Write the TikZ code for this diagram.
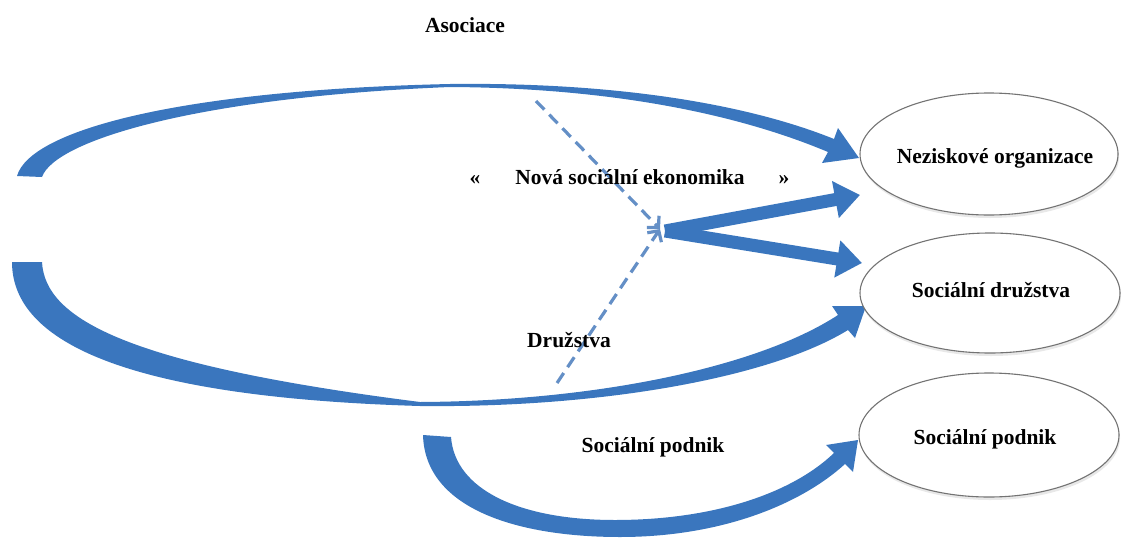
\documentclass[tikz,border=0pt]{standalone}
\usepackage{fontspec}
\setmainfont{Liberation Serif}
\usetikzlibrary{arrows.meta,shapes.geometric,shadows}
\definecolor{arcblue}{RGB}{58,118,190}
\definecolor{dashblue}{RGB}{100,143,198}
\begin{document}
\begin{tikzpicture}[x=1pt,y=-1pt,
  lbl/.style={font=\bfseries\fontsize{21.5}{25}\selectfont, inner sep=0pt, anchor=base},
  ell/.style={ellipse, draw=black!55, line width=1.1pt, fill=white, minimum width=258pt, minimum height=122pt, inner sep=0pt, drop shadow={shadow xshift=1pt, shadow yshift=-3pt, opacity=0.18}},
  bigarc/.style={fill=arcblue},
  straightarrow/.style={draw=arcblue, line width=13pt, -{Triangle[length=25pt,width=36pt]}},
  dashline/.style={draw=dashblue, line width=3.2pt, dash pattern=on 12pt off 7pt, -{Straight Barb[length=8pt,width=17pt]}}]
\useasboundingbox (0,0) rectangle (1121,538);

% curved arrow: Asociace -> Neziskove organizace
\fill[bigarc] (17,176) .. controls (30,130) and (180,90) .. (450,84)
  .. controls (620,82) and (750,105) .. (834,139) -- (838,128) -- (859,158) -- (822,163) -- (828,152)
  .. controls (740,115) and (615,88) .. (450,87)
  .. controls (200,97) and (55,140) .. (42,177) -- cycle;

% curved arrow: Druzstva -> Socialni druzstva
\fill[bigarc] (12,262) .. controls (12,350) and (150,398) .. (420,406)
  .. controls (600,408) and (770,378) .. (848,330) -- (855,338) -- (866,306) -- (832,306) -- (838,315)
  .. controls (760,366) and (600,401) .. (420,402)
  .. controls (130,365) and (45,320) .. (42,262) -- cycle;

% curved arrow: Socialni podnik -> Socialni podnik
\fill[bigarc] (423,435) .. controls (425,510) and (520,537) .. (620,537)
  .. controls (720,537) and (800,505) .. (845,464) -- (853,472) -- (858,440) -- (826,445) -- (834,453)
  .. controls (790,495) and (710,520) .. (615,520)
  .. controls (520,520) and (455,490) .. (451,437) -- cycle;

% coordinates
\coordinate (hub) at (665,231);
\coordinate (dtip) at (660,229);
\coordinate (d1) at (536,101);
\coordinate (d2) at (557,383);
\coordinate (t1) at (860,195);
\coordinate (t2) at (862,263);

% straight arrows
\draw[straightarrow] (hub) -- (t1);
\draw[straightarrow] (hub) -- (t2);

% dashed arrows
\draw[dashline] (d1) -- (dtip);
\draw[dashline] (d2) -- (dtip);

% ellipses
\node[ell] (nez) at (989,154) {};
\node[ell, minimum height=120pt, minimum width=260pt] (sdr) at (990,293) {};
\node[ell, minimum height=124pt, minimum width=260pt] (spod) at (989,435) {};

% labels
\node[lbl] (nezt) at (995,163) {Neziskové organizace};
\node[lbl] (sdrt) at (991,297) {Sociální družstva};
\node[lbl] (spodt) at (985,444) {Sociální podnik};

\node[lbl] (asoc) at (465,32) {Asociace};
\node[lbl] (lq) at (475,184) {«};
\node[lbl] (nse) at (630,184) {Nová sociální ekonomika};
\node[lbl] (rq) at (784,184) {»};
\node[lbl] (druz) at (569,347) {Družstva};
\node[lbl] (podn) at (653,452) {Sociální podnik};
\end{tikzpicture}
\end{document}
